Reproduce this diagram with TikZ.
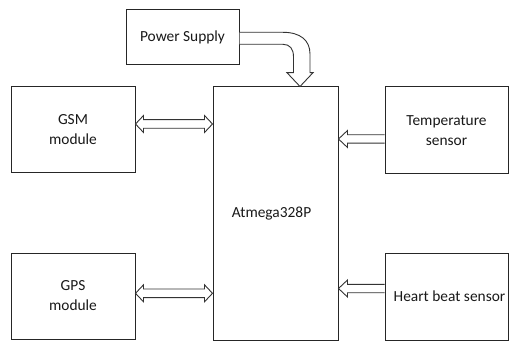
\documentclass[tikz,border=0pt]{standalone}
\usepackage{fontspec}
\setmainfont{Carlito}
\usetikzlibrary{calc}
\begin{document}
\begin{tikzpicture}[x=1pt,y=-1pt,
  blk/.style={draw=black!85, line width=1pt, fill=white, inner sep=0pt, align=center,
    font=\fontsize{15.4}{20}\selectfont, text=black!90},
  fat/.style={draw=black!80, line width=0.9pt, fill=white, line join=miter}]
\useasboundingbox (0,0) rectangle (509,342);
% blocks
\node[blk, minimum width=113, minimum height=55] (ps) at (182.5,37.5) {Power Supply};
\node[blk, minimum width=124, minimum height=86] (gsm) at (73,130) {GSM\\module};
\node[blk, minimum width=125, minimum height=253] (mcu) at (275.5,213.5) {Atmega328P\hspace*{8pt}};
\node[blk, minimum width=123, minimum height=87] (temp) at (446.5,130.5) {Temperature\\sensor};
\node[blk, minimum width=124, minimum height=86] (gps) at (73,296) {GPS\\module};
\node[blk, minimum width=123, minimum height=87] (heart) at (446.5,296.5) {\hspace*{6pt}Heart beat sensor};
% double arrows
\foreach \a/\b/\y in {gsm/mcu/124, gps/mcu/293.3}{
  \coordinate (l) at (\a.east |- 0,\y);
  \coordinate (r) at (\b.west |- 0,\y);
  \draw[fat] (l) -- ($(l)+(8,-8.5)$) -- ($(l)+(8,-4.3)$) -- ($(r)+(-8,-4.3)$)
    -- ($(r)+(-8,-8.5)$) -- (r) -- ($(r)+(-8,8.5)$) -- ($(r)+(-8,4.3)$)
    -- ($(l)+(8,4.3)$) -- ($(l)+(8,8.5)$) -- cycle;
}
% single arrows
\foreach \a/\y in {temp/139, heart/288.5}{
  \coordinate (s) at (\a.west |- 0,\y);
  \coordinate (t) at (mcu.east |- 0,\y);
  \draw[fat] ($(s)+(0,-4.2)$) -- ($(t)+(9,-4.2)$) -- ($(t)+(9,-8.5)$) -- (t) -- ($(t)+(9,8.5)$)
    -- ($(t)+(9,4.2)$) -- ($(s)+(0,4.2)$);
}
% power arrow
\coordinate (p1) at (ps.east |- 0,32.3);
\coordinate (p2) at (ps.east |- 0,44.3);
\coordinate (pt) at (mcu.north -| 300,0);
\draw[fat] (p1) -- (283,32.3) .. controls (300,32.3) and (310,40) .. (310,54)
  -- (310,72.7) -- (313,72.7) -- (pt) -- (287,72.7) -- (293.5,72.7) -- (293.5,57)
  .. controls (293.5,49) and (290,44.3) .. (283,44.3) -- (p2);
\end{tikzpicture}
\end{document}
